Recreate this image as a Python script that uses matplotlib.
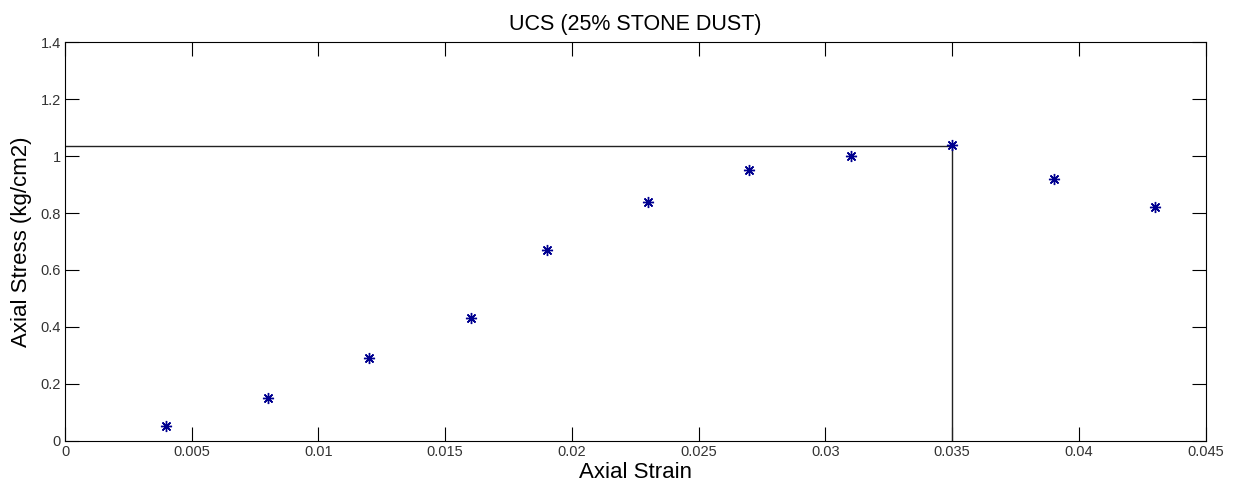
import numpy as np
import matplotlib.pyplot as plt

plt.rcParams['font.family'] = ['Liberation Sans', 'DejaVu Sans']

strain = [0.004, 0.008, 0.012, 0.016, 0.019, 0.023, 0.027, 0.031, 0.035, 0.039, 0.043]
stress = [0.052, 0.15, 0.29, 0.43, 0.67, 0.84, 0.95, 1.0, 1.04, 0.92, 0.822]
peak_strain = 0.035
peak_stress = 1.036

fig = plt.figure(figsize=(12.34, 4.92), dpi=100)
ax = fig.add_axes([0.0527, 0.1037, 0.9243, 0.8109])

ax.plot([0, peak_strain], [peak_stress, peak_stress], color='#222222', lw=1)
ax.plot([peak_strain, peak_strain], [0, peak_stress], color='#222222', lw=1)
ax.plot(strain, stress, linestyle='none', marker=(8, 2, 0), color='#000090',
        markersize=8, markeredgewidth=1.0)

ax.set_xlim(0, 0.045)
ax.set_ylim(0, 1.4)
ax.set_xticks(np.arange(0, 0.0451, 0.005))
ax.set_xticklabels(['0', '0.005', '0.01', '0.015', '0.02', '0.025', '0.03', '0.035', '0.04', '0.045'])
ax.set_yticks(np.arange(0, 1.41, 0.2))
ax.set_yticklabels(['0', '0.2', '0.4', '0.6', '0.8', '1', '1.2', '1.4'])
ax.tick_params(direction='in', top=True, right=True, length=10, labelsize=10.5, pad=3,
               labelcolor='#333333')
ax.set_title('UCS (25% STONE DUST)', fontsize=15.5, pad=9)
ax.set_xlabel('Axial Strain', fontsize=16, labelpad=2)
ax.set_ylabel('Axial Stress (kg/cm2)', fontsize=16, labelpad=6)

fig.savefig('out.png', dpi=100)
